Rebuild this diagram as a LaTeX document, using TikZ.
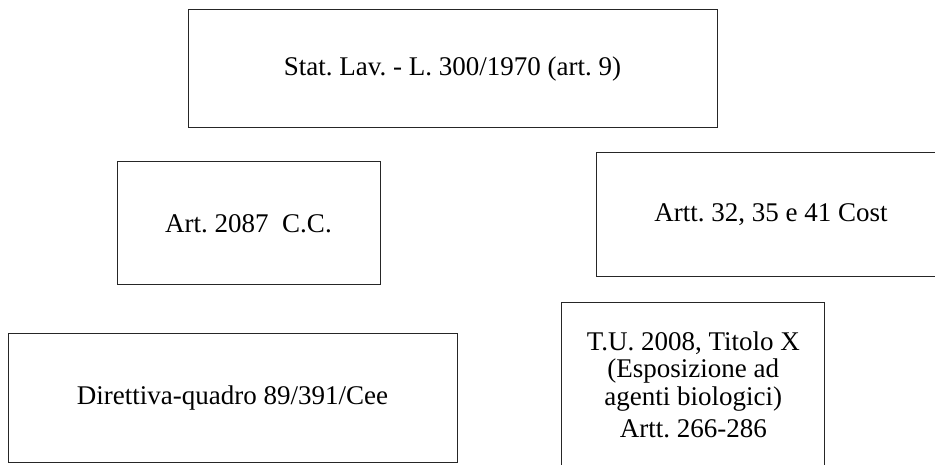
\documentclass[tikz,border=0pt]{standalone}
\usepackage{fontspec}
\setmainfont{Liberation Serif}
\frenchspacing
\usetikzlibrary{positioning}

\tikzset{
  normbox/.style={draw=black!85, line width=1pt, inner sep=0pt, align=center,
    font=\fontsize{27}{27.5}\selectfont}
}

\begin{document}
\begin{tikzpicture}[x=1pt, y=-1pt]
\useasboundingbox (0,0) rectangle (935,465);
\clip (0,0) rectangle (935,465);
% upper row
\node [normbox, minimum width=529, minimum height=118] (statuto) at (452.5,69) {Stat. Lav. - L. 300/1970 (art. 9)};
% middle row
\node [normbox, minimum width=263, minimum height=123] (codciv) at (248.5,223.5) {Art. 2087\ \ C.C.};
\node [normbox, minimum width=350, minimum height=124] (costit) at (771,215) {Artt. 32, 35 e 41 Cost};
% lower row
\node [normbox, minimum width=449, minimum height=129] (direttiva) at (232.5,398.3) {Direttiva-quadro 89/391/Cee};
\node [normbox, minimum width=263, minimum height=164] (testounico) at (693.3,385) {T.U. 2008, Titolo X\\(Esposizione ad\\agenti biologici)\\[5pt]Artt. 266-286};
\end{tikzpicture}
\end{document}
